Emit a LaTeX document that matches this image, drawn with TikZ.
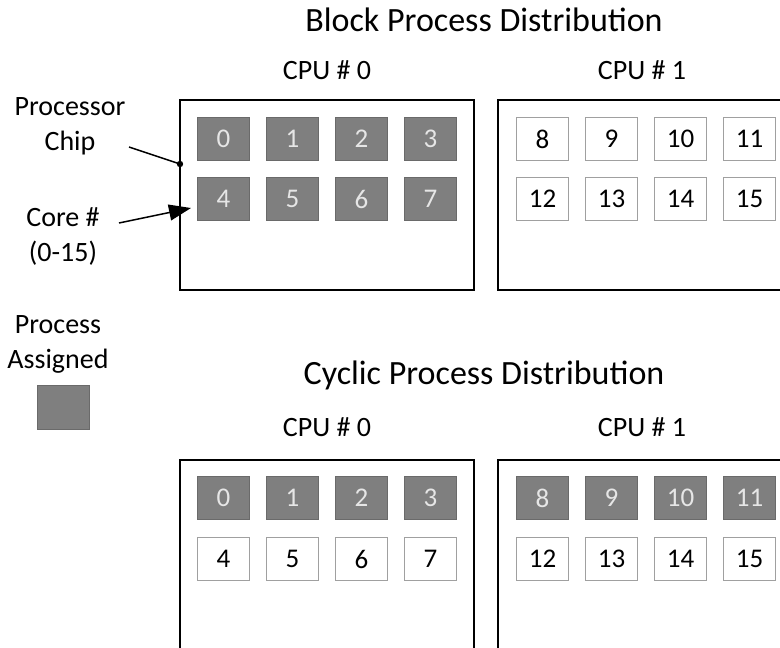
\documentclass[tikz,border=0pt]{standalone}
\usepackage{fontspec}
\setmainfont{Carlito}
\usetikzlibrary{arrows.meta}
\definecolor{cellgray}{HTML}{7F7F7F}
\definecolor{celledge}{HTML}{6A6A6A}
\definecolor{whiteedge}{HTML}{A0A0A0}
\definecolor{celltext}{HTML}{E6E6E6}
\begin{document}
\begin{tikzpicture}[x=1pt,y=-1pt,
  chipbox/.style={draw=black,line width=2pt},
  cellon/.style={draw=celledge,fill=cellgray,line width=1pt,minimum width=52pt,minimum height=43pt,inner sep=0pt,anchor=north west,text=celltext,font=\fontsize{27}{30}\selectfont},
  celloff/.style={draw=whiteedge,fill=white,line width=1pt,minimum width=52pt,minimum height=43pt,inner sep=0pt,anchor=north west,text=black,font=\fontsize{27}{30}\selectfont},
  titletext/.style={font=\fontsize{34}{38}\selectfont,inner sep=0pt},
  cputext/.style={font=\fontsize{28}{32}\selectfont,inner sep=0pt},
  labeltext/.style={font=\fontsize{28}{35}\selectfont,align=center,inner sep=0pt},
  pointer/.style={line width=1.5pt}
]
\useasboundingbox (0,0) rectangle (780,648);
\clip (0,0) rectangle (780,648);

% titles
\node[titletext] (t1) at (484,20) {Block Process Distribution};
\node[titletext] (t2) at (484,375) {Cyclic Process Distribution};
\node[cputext] (c10) at (327,70) {CPU \# 0};
\node[cputext] (c11) at (642,70) {CPU \# 1};
\node[cputext] (c20) at (327,427) {CPU \# 0};
\node[cputext] (c21) at (642,427) {CPU \# 1};

% chips
\draw[chipbox] (180,100) rectangle (474,290);
\draw[chipbox] (498,100) rectangle (800,290);
\draw[chipbox] (180,460) rectangle (474,680);
\draw[chipbox] (498,460) rectangle (800,680);

% block distribution
\node[cellon] (b0) at (197,117) {0};
\node[cellon] (b1) at (266,117) {1};
\node[cellon] (b2) at (335,117) {2};
\node[cellon] (b3) at (404,117) {3};
\node[cellon] (b4) at (197,177) {4};
\node[cellon] (b5) at (266,177) {5};
\node[cellon] (b6) at (335,177) {6};
\node[cellon] (b7) at (404,177) {7};
\node[celloff] (b8) at (516,117) {8};
\node[celloff] (b9) at (585,117) {9};
\node[celloff] (b10) at (654,117) {10};
\node[celloff] (b11) at (723,117) {11};
\node[celloff] (b12) at (516,177) {12};
\node[celloff] (b13) at (585,177) {13};
\node[celloff] (b14) at (654,177) {14};
\node[celloff] (b15) at (723,177) {15};

% cyclic distribution
\node[cellon] (y0) at (197,476) {0};
\node[cellon] (y1) at (266,476) {1};
\node[cellon] (y2) at (335,476) {2};
\node[cellon] (y3) at (404,476) {3};
\node[celloff] (y4) at (197,537) {4};
\node[celloff] (y5) at (266,537) {5};
\node[celloff] (y6) at (335,537) {6};
\node[celloff] (y7) at (404,537) {7};
\node[cellon] (y8) at (516,476) {8};
\node[cellon] (y9) at (585,476) {9};
\node[cellon] (y10) at (654,476) {10};
\node[cellon] (y11) at (723,476) {11};
\node[celloff] (y12) at (516,537) {12};
\node[celloff] (y13) at (585,537) {13};
\node[celloff] (y14) at (654,537) {14};
\node[celloff] (y15) at (723,537) {15};

% left labels
\node[labeltext] (lchip) at (70,126) {Processor\\Chip};
\node[labeltext] (lcore) at (63,236) {Core \#\\(0-15)};
\node[labeltext] (lproc) at (58,344) {Process\\Assigned};
\node[draw=celledge,fill=cellgray,line width=1pt,minimum width=52pt,minimum height=44pt,inner sep=0pt] (legend) at (63,407) {};

% pointers
\coordinate (chipdot) at (180,164);
\coordinate (coretip) at (191,208);
\coordinate (chipstart) at (129,147);
\coordinate (corestart) at (119,223);
\draw[pointer] (chipstart) -- (chipdot);
\fill (chipdot) circle (3.2pt);
\draw[pointer,-{Triangle[length=22pt,width=16pt]}] (corestart) -- (coretip);
\end{tikzpicture}
\end{document}
